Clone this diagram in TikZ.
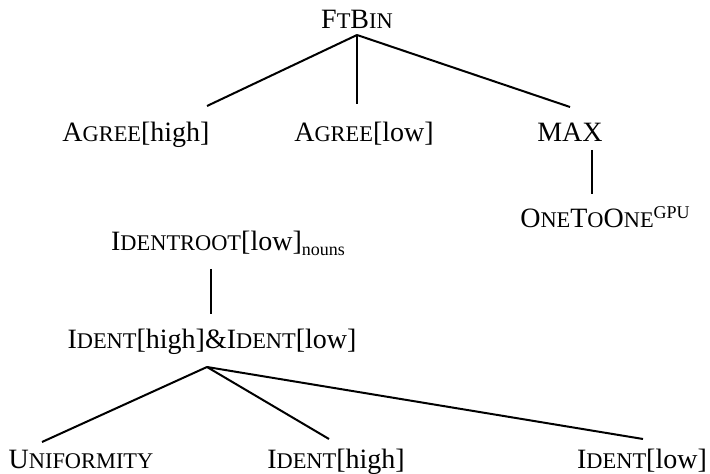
\documentclass[tikz,border=0pt]{standalone}
\usepackage{fontspec}
\setmainfont{Liberation Serif}
\newcommand\smc[1]{{\fontsize{11.2}{13}\selectfont #1}}
\newcommand\lowtxt[1]{\raisebox{-0.35ex}{\fontsize{9}{10}\selectfont #1}}
\newcommand\hightxt[1]{\raisebox{0.75ex}{\fontsize{9}{10}\selectfont #1}}

\begin{document}
\begin{tikzpicture}[x=0.5pt,y=-0.5pt,
			con node/.style={anchor=base,inner sep=0pt,font=\fontsize{14}{16}\selectfont},
			branch/.style={line width=1pt}
			]

			\useasboundingbox (0,0) rectangle (710,474);

			% upper tree
			\node[con node] at (357,29) (ftbin) {F\smc{T}B\smc{IN}};
			\node[con node] at (136,142) (agreehigh) {A\smc{GREE}[high]};
			\node[con node] at (364,142) (agreelow) {A\smc{GREE}[low]};
			\node[con node] at (570,142) (max) {MAX};
			\node[con node] at (605,228) (onetoone) {O\smc{NE}T\smc{O}O\smc{NE}\hightxt{GPU}};

			\coordinate (top) at (357,35);
			\coordinate (ah) at (207,106);
			\coordinate (al) at (357,104);
			\coordinate (mx) at (570,107);
			\coordinate (mxb) at (592,150);
			\coordinate (oo) at (592,194);

			\draw[branch] (top) -- (ah);
			\draw[branch] (top) -- (al);
			\draw[branch] (top) -- (mx);
			\draw[branch] (mxb) -- (oo);

			% lower tree
			\node[con node] at (228,251) (identroot) {I\smc{DENTROOT}[low]\lowtxt{nouns}};
			\node[con node] at (212,349) (identboth) {I\smc{DENT}[high]\&I\smc{DENT}[low]};
			\node[con node] at (81,468) (uniform) {U\smc{NIFORMITY}};
			\node[con node] at (336,468) (identhigh) {I\smc{DENT}[high]};
			\node[con node] at (642,468) (identlow) {I\smc{DENT}[low]};

			\coordinate (ir) at (211,269);
			\coordinate (ib) at (211,314);
			\coordinate (apex) at (207,367);
			\coordinate (un) at (42,442);
			\coordinate (ih) at (329,439);
			\coordinate (il) at (643,439);

			\draw[branch] (ir) -- (ib);
			\draw[branch] (apex) -- (un);
			\draw[branch] (apex) -- (ih);
			\draw[branch] (apex) -- (il);
		\end{tikzpicture}
\end{document}
